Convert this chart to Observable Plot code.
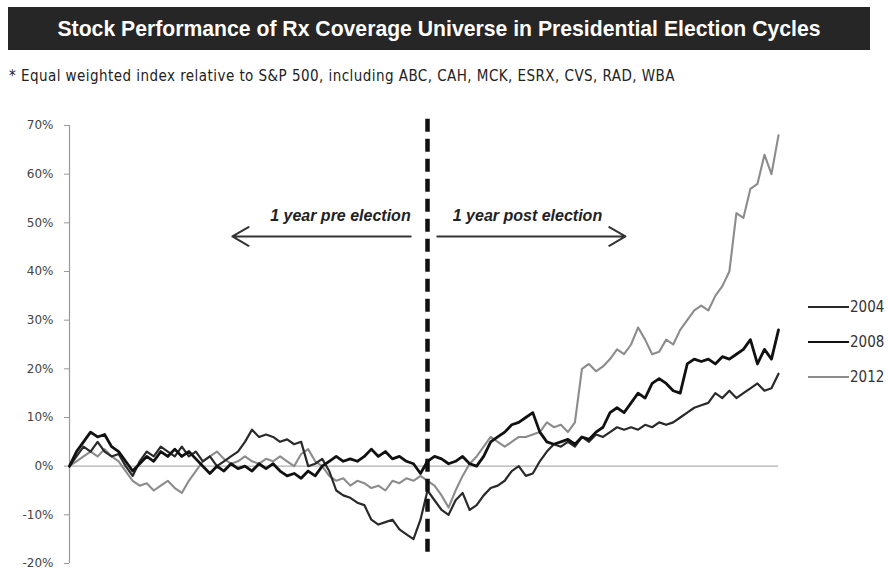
<!DOCTYPE html>
<html><head><meta charset="utf-8">
<script src="https://cdn.jsdelivr.net/npm/d3@7"></script>
<script src="https://cdn.jsdelivr.net/npm/@observablehq/plot@0.6"></script>
<style>
html,body{margin:0;padding:0;background:#fff;width:888px;height:574px;overflow:hidden;position:relative;}
#title{position:absolute;left:8px;top:7px;width:862px;height:43px;background:#262626;color:#fff;font:bold 21.2px "Liberation Sans",Arial,sans-serif;display:flex;align-items:center;justify-content:center;}
#sub{position:absolute;left:9px;top:67px;font:15px "DejaVu Sans Condensed","DejaVu Sans",sans-serif;letter-spacing:0.45px;color:#222;white-space:nowrap;}
#chart{position:absolute;left:0;top:95px;}
.item{position:absolute;left:808px;height:18px;display:flex;align-items:center;white-space:nowrap;font:15px "DejaVu Sans Condensed","DejaVu Sans",sans-serif;color:#333;}
.item span.ln{display:inline-block;width:41px;margin-right:1px;}
</style></head>
<body>
<div id="title">Stock Performance of Rx Coverage Universe in Presidential Election Cycles</div>
<div id="sub">* Equal weighted index relative to S&amp;P 500, including ABC, CAH, MCK, ESRX, CVS, RAD, WBA</div>
<div id="chart"></div>
<div id="legend"></div>
<script>
// trading days relative to election day (every 5 days)
const days = d3.range(-255, 251, 5);
const years = ["2004", "2008", "2012"];
const yTicks = [-20, -10, 0, 10, 20, 30, 40, 50, 60, 70];

const v2004 = [
  0, 2, 4, 3, 5, 3, 2, 2.5, 0, -2,
  1, 3, 2, 4, 3, 2, 4, 2, 3, 1,
  2, 0, 1, 2, 3, 5, 7.5, 6, 6.5, 6,
  5, 5.5, 4.5, 5, 0, 0.5, 1.5, -1, -5, -6,
  -6.5, -7.5, -8, -11, -12, -11.5, -11, -13, -14, -15,
  -11, -5, -7, -9, -10, -7, -5.5, -9, -8, -6,
  -4.5, -4, -3, -1, 0, -2, -1.5, 1, 3, 4.5,
  4, 5, 4, 6, 5, 6.5, 6, 7, 8, 7.5,
  8, 7.5, 8.5, 8, 9, 8.5, 9, 10, 11, 12,
  12.5, 13, 15, 14, 15.5, 14, 15, 16, 17, 15.5,
  16, 19
];
const v2008 = [
  0, 3, 5, 7, 6, 6.5, 4, 3, 1, -1,
  0.5, 2, 1, 3, 2, 3.5, 2, 3, 1.5, 0,
  -1.5, 0, -1, 0.5, -0.5, 0, -1, 0.5, -0.5, 0.5,
  -1, -2, -1.5, -2.5, -1, -2, 0, 1, 2, 1,
  1.5, 1, 2, 3.5, 2, 3, 1.5, 2, 1, 0.5,
  -1.5, 1, 2, 1.5, 0.5, 1, 2, 0.5, 0, 2,
  5, 6, 7, 8.5, 9, 10, 11, 7, 5, 4.5,
  5, 5.5, 4.5, 6, 5.5, 7, 8, 11, 12, 11,
  13, 15, 14, 17, 18, 17, 15.5, 15, 21, 22,
  21.5, 22, 21, 22.5, 22, 23, 24, 26, 21, 24,
  22, 28
];
const v2012 = [
  0, 1, 2, 3, 2, 3.5, 2, 1, -1, -3,
  -4, -3.5, -5, -4, -3, -4.5, -5.5, -3, -1, 1,
  2, 3, 1.5, 0.5, 1, 2, 1, 0.5, 1.5, 1,
  2, 1, 0, 2.5, 3.5, 1, 0, -2, -3, -2.5,
  -4, -3, -3.5, -4.5, -4, -5, -3, -3.5, -2.5, -3,
  -2, -3, -4, -6, -8.5, -5, -2, 0.5, 2, 4,
  6, 5, 4, 5, 6, 6, 6.5, 7, 9, 8,
  8.5, 7, 9, 20, 21, 19.5, 20.5, 22, 24, 23,
  25, 28.5, 26, 23, 23.5, 26, 25, 28, 30, 32,
  33, 32, 35, 37, 40, 52, 51, 57, 58, 64,
  60, 68
];

const annLabels = ["1 year pre election", "1 year post election"];
const annDay = [-12, 18];
const annValue = [51.5, 51.5];
const arrowFrom = [-12, 7];
const arrowTo = [-139, 141];
const arrowValue = [47.2, 47.2];

const styles = {
  "2004": {stroke: "#2a2a2a", width: 2.2},
  "2008": {stroke: "#111111", width: 2.8},
  "2012": {stroke: "#8c8c8c", width: 2.1}
};

const seriesVals = {"2004": v2004, "2008": v2008, "2012": v2012};
const rows = years.flatMap(y => seriesVals[y].map((v, i) => ({year: y, day: days[i], value: v})));
const ann = annLabels.map((t, i) => ({label: t, day: annDay[i], value: annValue[i]}));
const arrows = arrowFrom.map((d, i) => ({x1: d, x2: arrowTo[i], y: arrowValue[i]}));

const lineFor = y => Plot.line(rows.filter(r => r.year === y), {
  x: "day", y: "value", stroke: styles[y].stroke, strokeWidth: styles[y].width,
  strokeLinejoin: "round", curve: "linear"
});
const annText = (i, anchor) => Plot.text([ann[i]], {x: "day", y: "value", text: "label", textAnchor: anchor,
  fontSize: 16, fontWeight: "bold", fontStyle: "italic", fill: "#222",
  fontFamily: "'Liberation Sans',Arial,sans-serif"});

const chart = Plot.plot({
  width: 888, height: 479,
  marginLeft: 69, marginRight: 110, marginTop: 30, marginBottom: 11,
  style: {background: "transparent", fontFamily: "'DejaVu Sans',sans-serif"},
  x: {domain: [-255, 250], axis: null},
  y: {domain: [-20, 70], axis: null},
  marks: [
    Plot.ruleY([0], {x1: -255, x2: 250, stroke: "#b0b0b0", strokeWidth: 1.2}),
    Plot.ruleX([-255], {y1: -20, y2: 70, stroke: "#999", strokeWidth: 1.2}),
    Plot.axisY({ticks: yTicks, tickFormat: d => d + "%", tickSize: 5, tickPadding: 11,
      stroke: "#999", fill: "#444", fontSize: 12, anchor: "left"}),
    lineFor("2012"),
    lineFor("2004"),
    lineFor("2008"),
    Plot.ruleX([0], {y1: -17.7, y2: 72, stroke: "#111", strokeWidth: 4.5, strokeDasharray: "13,7"}),
    annText(0, "end"),
    annText(1, "start"),
    Plot.arrow(arrows, {x1: "x1", x2: "x2", y1: "y", y2: "y", bend: 0, headLength: 14,
      stroke: "#333", strokeWidth: 2})
  ]
});
document.getElementById("chart").appendChild(chart);

const legendY = [307, 342, 377];
const leg = document.getElementById("legend");
years.forEach((y, i) => {
  const d = document.createElement("div");
  d.className = "item";
  d.style.top = (legendY[i] - 9) + "px";
  d.innerHTML = `<span class="ln" style="border-top:${styles[y].width}px solid ${styles[y].stroke}"></span>${y}`;
  leg.appendChild(d);
});
</script>
</body></html>
